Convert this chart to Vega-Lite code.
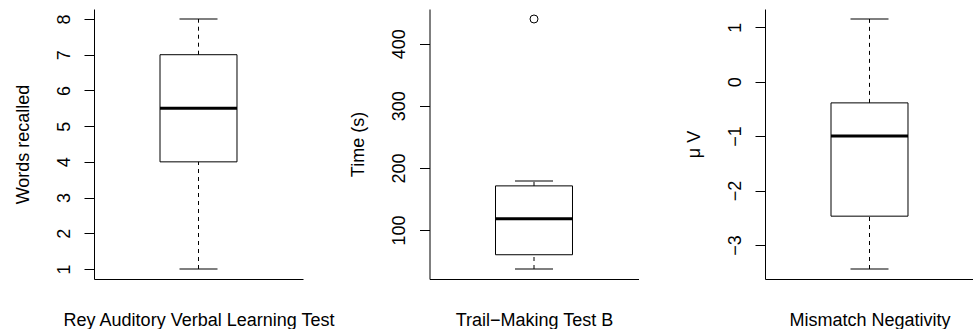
{
  "$schema": "https://vega.github.io/schema/vega-lite/v6.json",
  "padding": {"left": 14, "top": 9, "right": 0, "bottom": 0},
  "datasets": {
    "boxes": [
      {"test": "RAVLT", "min": 1, "q1": 4, "median": 5.5, "q3": 7, "max": 8},
      {"test": "TMT-B", "min": 37, "q1": 60, "median": 118, "q3": 171, "max": 179},
      {"test": "MMN", "min": -3.44, "q1": -2.47, "median": -1.0, "q3": -0.39, "max": 1.15}
    ],
    "outliers": [
      {"test": "TMT-B", "value": 440}
    ]
  },
  "data": {"name": "boxes"},
  "bounds": "flush",
  "spacing": 126.5,
  "hconcat": [
    {
      "width": 209,
      "height": 270,
      "transform": [{"filter": "datum.test == 'RAVLT'"}],
      "encoding": {
        "x": {"field": "test", "type": "nominal", "scale": {"paddingInner": 0, "paddingOuter": 0}, "axis": {"title": "Rey Auditory Verbal Learning Test"}}
      },
      "layer": [
        {
          "mark": {"type": "bar", "fill": "white", "stroke": "black", "strokeWidth": 1, "width": {"band": 0.3684}},
          "encoding": {
            "y": {"field": "q1", "type": "quantitative", "title": "Words recalled", "scale": {"domain": [0.72, 8.28], "nice": false, "zero": false}, "axis": {"values": [1, 2, 3, 4, 5, 6, 7, 8], "tickSize": 10, "labelFontSize": 18, "labelPadding": 20, "labelAngle": 270, "labelAlign": "center", "labelBaseline": "middle", "labelOverlap": false, "labelBound": false, "labelFlush": false}},
            "y2": {"field": "q3"}
          }
        },
        {
          "mark": {"type": "rule", "color": "black", "strokeWidth": 1, "strokeDash": [4, 4]},
          "encoding": {"y": {"field": "min", "type": "quantitative", "title": "Words recalled", "axis": {"values": [1, 2, 3, 4, 5, 6, 7, 8], "tickSize": 10, "labelFontSize": 18, "labelPadding": 20, "labelAngle": 270, "labelAlign": "center", "labelBaseline": "middle", "labelOverlap": false, "labelBound": false, "labelFlush": false}}, "y2": {"field": "q1"}}
        },
        {
          "mark": {"type": "rule", "color": "black", "strokeWidth": 1, "strokeDash": [4, 4]},
          "encoding": {"y": {"field": "q3", "type": "quantitative", "title": "Words recalled", "axis": {"values": [1, 2, 3, 4, 5, 6, 7, 8], "tickSize": 10, "labelFontSize": 18, "labelPadding": 20, "labelAngle": 270, "labelAlign": "center", "labelBaseline": "middle", "labelOverlap": false, "labelBound": false, "labelFlush": false}}, "y2": {"field": "max"}}
        },
        {
          "mark": {"type": "tick", "orient": "horizontal", "color": "black", "size": 38, "thickness": 1, "opacity": 1},
          "encoding": {"y": {"field": "min", "type": "quantitative", "title": "Words recalled", "axis": {"values": [1, 2, 3, 4, 5, 6, 7, 8], "tickSize": 10, "labelFontSize": 18, "labelPadding": 20, "labelAngle": 270, "labelAlign": "center", "labelBaseline": "middle", "labelOverlap": false, "labelBound": false, "labelFlush": false}}}
        },
        {
          "mark": {"type": "tick", "orient": "horizontal", "color": "black", "size": 38, "thickness": 1, "opacity": 1},
          "encoding": {"y": {"field": "max", "type": "quantitative", "title": "Words recalled", "axis": {"values": [1, 2, 3, 4, 5, 6, 7, 8], "tickSize": 10, "labelFontSize": 18, "labelPadding": 20, "labelAngle": 270, "labelAlign": "center", "labelBaseline": "middle", "labelOverlap": false, "labelBound": false, "labelFlush": false}}}
        },
        {
          "mark": {"type": "tick", "orient": "horizontal", "color": "black", "size": 77, "thickness": 3, "opacity": 1},
          "encoding": {"y": {"field": "median", "type": "quantitative", "title": "Words recalled", "axis": {"values": [1, 2, 3, 4, 5, 6, 7, 8], "tickSize": 10, "labelFontSize": 18, "labelPadding": 20, "labelAngle": 270, "labelAlign": "center", "labelBaseline": "middle", "labelOverlap": false, "labelBound": false, "labelFlush": false}}}
        }
      ]
    },
    {
      "width": 209,
      "height": 270,
      "transform": [{"filter": "datum.test == 'TMT-B'"}],
      "encoding": {
        "x": {"field": "test", "type": "nominal", "scale": {"paddingInner": 0, "paddingOuter": 0}, "axis": {"title": "Trail−Making Test B"}}
      },
      "layer": [
        {
          "mark": {"type": "bar", "fill": "white", "stroke": "black", "strokeWidth": 1, "width": {"band": 0.3684}},
          "encoding": {
            "y": {"field": "q1", "type": "quantitative", "title": "Time (s)", "scale": {"domain": [20.9, 456.1], "nice": false, "zero": false}, "axis": {"values": [100, 200, 300, 400], "tickSize": 10, "labelFontSize": 18, "labelPadding": 20, "labelAngle": 270, "labelAlign": "center", "labelBaseline": "middle", "labelOverlap": false, "labelBound": false, "labelFlush": false}},
            "y2": {"field": "q3"}
          }
        },
        {
          "mark": {"type": "rule", "color": "black", "strokeWidth": 1, "strokeDash": [4, 4]},
          "encoding": {"y": {"field": "min", "type": "quantitative", "title": "Time (s)", "axis": {"values": [100, 200, 300, 400], "tickSize": 10, "labelFontSize": 18, "labelPadding": 20, "labelAngle": 270, "labelAlign": "center", "labelBaseline": "middle", "labelOverlap": false, "labelBound": false, "labelFlush": false}}, "y2": {"field": "q1"}}
        },
        {
          "mark": {"type": "rule", "color": "black", "strokeWidth": 1, "strokeDash": [4, 4]},
          "encoding": {"y": {"field": "q3", "type": "quantitative", "title": "Time (s)", "axis": {"values": [100, 200, 300, 400], "tickSize": 10, "labelFontSize": 18, "labelPadding": 20, "labelAngle": 270, "labelAlign": "center", "labelBaseline": "middle", "labelOverlap": false, "labelBound": false, "labelFlush": false}}, "y2": {"field": "max"}}
        },
        {
          "mark": {"type": "tick", "orient": "horizontal", "color": "black", "size": 38, "thickness": 1, "opacity": 1},
          "encoding": {"y": {"field": "min", "type": "quantitative", "title": "Time (s)", "axis": {"values": [100, 200, 300, 400], "tickSize": 10, "labelFontSize": 18, "labelPadding": 20, "labelAngle": 270, "labelAlign": "center", "labelBaseline": "middle", "labelOverlap": false, "labelBound": false, "labelFlush": false}}}
        },
        {
          "mark": {"type": "tick", "orient": "horizontal", "color": "black", "size": 38, "thickness": 1, "opacity": 1},
          "encoding": {"y": {"field": "max", "type": "quantitative", "title": "Time (s)", "axis": {"values": [100, 200, 300, 400], "tickSize": 10, "labelFontSize": 18, "labelPadding": 20, "labelAngle": 270, "labelAlign": "center", "labelBaseline": "middle", "labelOverlap": false, "labelBound": false, "labelFlush": false}}}
        },
        {
          "mark": {"type": "tick", "orient": "horizontal", "color": "black", "size": 77, "thickness": 3, "opacity": 1},
          "encoding": {"y": {"field": "median", "type": "quantitative", "title": "Time (s)", "axis": {"values": [100, 200, 300, 400], "tickSize": 10, "labelFontSize": 18, "labelPadding": 20, "labelAngle": 270, "labelAlign": "center", "labelBaseline": "middle", "labelOverlap": false, "labelBound": false, "labelFlush": false}}}
        },
        {
          "data": {"name": "outliers"},
          "mark": {"type": "point", "shape": "circle", "filled": false, "color": "black", "size": 64, "strokeWidth": 1, "opacity": 1},
          "encoding": {"y": {"field": "value", "type": "quantitative", "title": "Time (s)", "axis": {"values": [100, 200, 300, 400], "tickSize": 10, "labelFontSize": 18, "labelPadding": 20, "labelAngle": 270, "labelAlign": "center", "labelBaseline": "middle", "labelOverlap": false, "labelBound": false, "labelFlush": false}}}
        }
      ]
    },
    {
      "width": 209,
      "height": 270,
      "transform": [{"filter": "datum.test == 'MMN'"}],
      "encoding": {
        "x": {"field": "test", "type": "nominal", "scale": {"paddingInner": 0, "paddingOuter": 0}, "axis": {"title": "Mismatch Negativity"}}
      },
      "layer": [
        {
          "mark": {"type": "bar", "fill": "white", "stroke": "black", "strokeWidth": 1, "width": {"band": 0.3684}},
          "encoding": {
            "y": {"field": "q1", "type": "quantitative", "title": "μ V", "scale": {"domain": [-3.6236, 1.3336], "nice": false, "zero": false}, "axis": {"values": [-3, -2, -1, 0, 1], "tickSize": 10, "labelFontSize": 18, "labelPadding": 20, "labelAngle": 270, "labelAlign": "center", "labelBaseline": "middle", "labelOverlap": false, "labelBound": false, "labelFlush": false}},
            "y2": {"field": "q3"}
          }
        },
        {
          "mark": {"type": "rule", "color": "black", "strokeWidth": 1, "strokeDash": [4, 4]},
          "encoding": {"y": {"field": "min", "type": "quantitative", "title": "μ V", "axis": {"values": [-3, -2, -1, 0, 1], "tickSize": 10, "labelFontSize": 18, "labelPadding": 20, "labelAngle": 270, "labelAlign": "center", "labelBaseline": "middle", "labelOverlap": false, "labelBound": false, "labelFlush": false}}, "y2": {"field": "q1"}}
        },
        {
          "mark": {"type": "rule", "color": "black", "strokeWidth": 1, "strokeDash": [4, 4]},
          "encoding": {"y": {"field": "q3", "type": "quantitative", "title": "μ V", "axis": {"values": [-3, -2, -1, 0, 1], "tickSize": 10, "labelFontSize": 18, "labelPadding": 20, "labelAngle": 270, "labelAlign": "center", "labelBaseline": "middle", "labelOverlap": false, "labelBound": false, "labelFlush": false}}, "y2": {"field": "max"}}
        },
        {
          "mark": {"type": "tick", "orient": "horizontal", "color": "black", "size": 38, "thickness": 1, "opacity": 1},
          "encoding": {"y": {"field": "min", "type": "quantitative", "title": "μ V", "axis": {"values": [-3, -2, -1, 0, 1], "tickSize": 10, "labelFontSize": 18, "labelPadding": 20, "labelAngle": 270, "labelAlign": "center", "labelBaseline": "middle", "labelOverlap": false, "labelBound": false, "labelFlush": false}}}
        },
        {
          "mark": {"type": "tick", "orient": "horizontal", "color": "black", "size": 38, "thickness": 1, "opacity": 1},
          "encoding": {"y": {"field": "max", "type": "quantitative", "title": "μ V", "axis": {"values": [-3, -2, -1, 0, 1], "tickSize": 10, "labelFontSize": 18, "labelPadding": 20, "labelAngle": 270, "labelAlign": "center", "labelBaseline": "middle", "labelOverlap": false, "labelBound": false, "labelFlush": false}}}
        },
        {
          "mark": {"type": "tick", "orient": "horizontal", "color": "black", "size": 77, "thickness": 3, "opacity": 1},
          "encoding": {"y": {"field": "median", "type": "quantitative", "title": "μ V", "axis": {"values": [-3, -2, -1, 0, 1], "tickSize": 10, "labelFontSize": 18, "labelPadding": 20, "labelAngle": 270, "labelAlign": "center", "labelBaseline": "middle", "labelOverlap": false, "labelBound": false, "labelFlush": false}}}
        }
      ]
    }
  ],
  "config": {
    "view": {"stroke": null},
    "font": "Liberation Sans",
    "axis": {
      "labelFont": "Liberation Sans",
      "titleFont": "Liberation Sans",
      "domainColor": "black",
      "domainWidth": 1,
      "tickColor": "black",
      "tickWidth": 1,
      "labelColor": "black",
      "titleColor": "black",
      "grid": false,
      "titleFontWeight": "normal",
      "titleFontSize": 18
    },
    "axisY": {
      "titleAngle": 270,
      "titleX": -71,
      "titleY": 135,
      "titleAlign": "center",
      "titleBaseline": "middle"
    },
    "axisX": {
      "labels": false,
      "ticks": false,
      "titleX": 104.5,
      "titleY": 46,
      "titleAlign": "center",
      "titleBaseline": "alphabetic"
    }
  }
}
